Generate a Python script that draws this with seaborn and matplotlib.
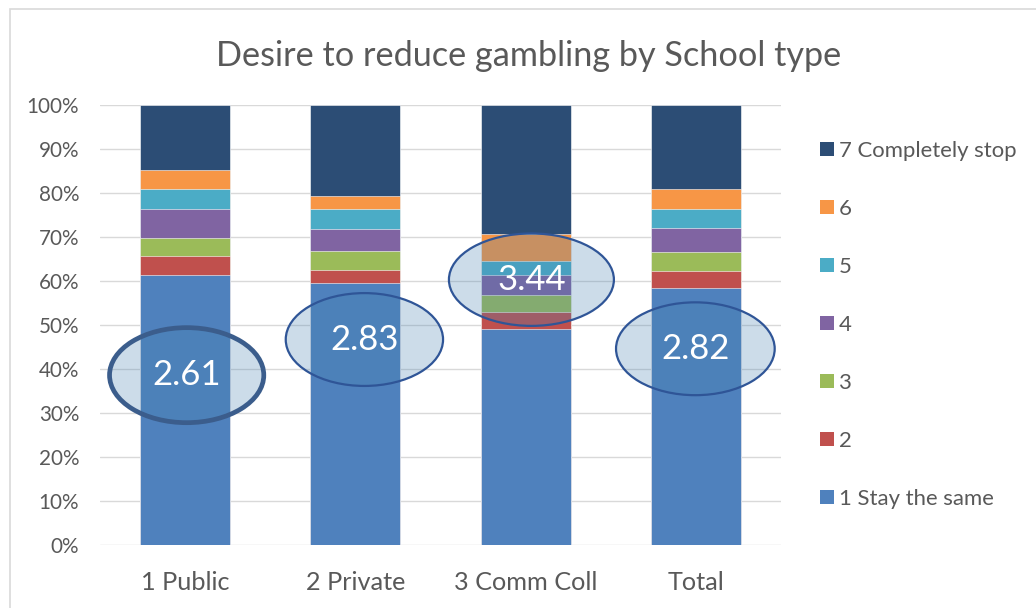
import numpy as np
import pandas as pd
import matplotlib
matplotlib.use("Agg")
import matplotlib.pyplot as plt
from matplotlib.patches import Ellipse, Patch, Rectangle
import seaborn as sns

# ---- data -------------------------------------------------------------
school_types = ["1 Public", "2 Private", "3 Comm Coll", "Total"]
levels = ["1 Stay the same", "2", "3", "4", "5", "6", "7 Completely stop"]

# share of respondents (%) at each level, level 1 -> level 7
pct_public = [61.3, 4.3, 4.2, 6.5, 4.5, 4.4, 14.8]
pct_private = [59.5, 3.1, 4.2, 5.0, 4.5, 3.1, 20.6]
pct_commcoll = [49.0, 3.9, 3.9, 4.6, 3.1, 6.1, 29.4]
pct_total = [58.5, 3.8, 4.2, 5.6, 4.3, 4.5, 19.1]

# mean score on the 1-7 scale for each school type
mean_scores = [2.61, 2.83, 3.44, 2.82]

y_ticks = [0, 10, 20, 30, 40, 50, 60, 70, 80, 90, 100]
y_tick_labels = [f"{t}%" for t in y_ticks]

# ---- styling ----------------------------------------------------------
level_colors = ["#4f81bd", "#c0504d", "#9bbb59", "#8064a2",
                "#4bacc6", "#f79646", "#2c4d75"]
text_color = "#595959"
grid_color = "#d9d9d9"
FONT = ["Lato", "DejaVu Sans"]
callout_fill = (70 / 255, 129 / 255, 177 / 255, 0.27)

# ellipse callouts: (x centre offset, y centre %, width, height, line width)
callouts = [
    (0.009, 38.6, 0.906, 21.6, 3.4),
    (1.053, 46.7, 0.924, 21.1, 1.6),
    (2.034, 60.3, 0.969, 21.0, 1.6),
    (2.997, 44.6, 0.932, 21.1, 1.6),
]
callout_edges = ["#3b5d8c", "#2f5597", "#2f5597", "#2f5597"]

sns.set_theme(style="white")
plt.rcParams["font.family"] = FONT

# long-form table with cumulative tops for stacking
rows = []
for school, pcts in zip(school_types,
                        [pct_public, pct_private, pct_commcoll, pct_total]):
    for lvl, p in zip(levels, pcts):
        rows.append({"school": school, "level": lvl, "pct": p})
df = pd.DataFrame(rows)
df["top"] = df.groupby("school")["pct"].cumsum()

W, H, DPI = 1036, 608, 100
fig = plt.figure(figsize=(W / DPI, H / DPI), dpi=DPI)
ax = fig.add_axes([100 / W, 1 - 545 / H, 681 / W, 440 / H])

# draw cumulative bars from the top level down so each shorter one sits in front
for lvl, col in reversed(list(zip(levels, level_colors))):
    sub = df[df["level"] == lvl]
    sns.barplot(data=sub, x="school", y="top", order=school_types,
                color=col, saturation=1, width=0.53, ax=ax,
                edgecolor="white", linewidth=0.4, zorder=2)

ax.set_xlim(-0.5, 3.5)
ax.set_ylim(0, 100)
ax.set_yticks(y_ticks)
ax.set_yticklabels(y_tick_labels)
ax.set_xlabel("")
ax.set_ylabel("")
ax.yaxis.grid(True, color=grid_color, linewidth=1.0, zorder=0)
ax.set_axisbelow(True)
for s in ax.spines.values():
    s.set_visible(False)
ax.tick_params(axis="y", length=0, pad=15, labelsize=14.9, labelcolor=text_color)
ax.tick_params(axis="x", length=0, pad=19, labelsize=18.2, labelcolor=text_color)

# mean-score callouts
for i, ((dx, cy, w, h, lw), ec) in enumerate(zip(callouts, callout_edges)):
    e = Ellipse((dx, cy), w, h, facecolor=callout_fill,
                edgecolor=ec, linewidth=lw, zorder=5, clip_on=False)
    ax.add_patch(e)
    ax.text(dx, cy, f"{mean_scores[i]:.2f}", ha="center", va="center",
            color="white", fontsize=25, zorder=6)

# legend, highest level first
handles = [Patch(facecolor=c, edgecolor="none") for c in reversed(level_colors)]
fig.legend(handles, list(reversed(levels)), loc="upper left",
           bbox_to_anchor=(820 / W, 1 - 141 / H), frameon=False,
           fontsize=15.9, labelcolor=text_color, handlelength=0.62,
           handleheight=0.62, handletextpad=0.22, labelspacing=1.72,
           borderaxespad=0, borderpad=0)

fig.text(529 / W, 1 - 66 / H, "Desire to reduce gambling by School type",
         ha="center", va="baseline", fontsize=24.7, color=text_color)

# chart-area frame
fig.patches.append(Rectangle((10 / W, -0.1), 1.2, 1 - 9 / H + 0.1,
                             transform=fig.transFigure, fill=False,
                             edgecolor=grid_color, linewidth=1.2))

fig.savefig("out.png", dpi=DPI, facecolor="white")
